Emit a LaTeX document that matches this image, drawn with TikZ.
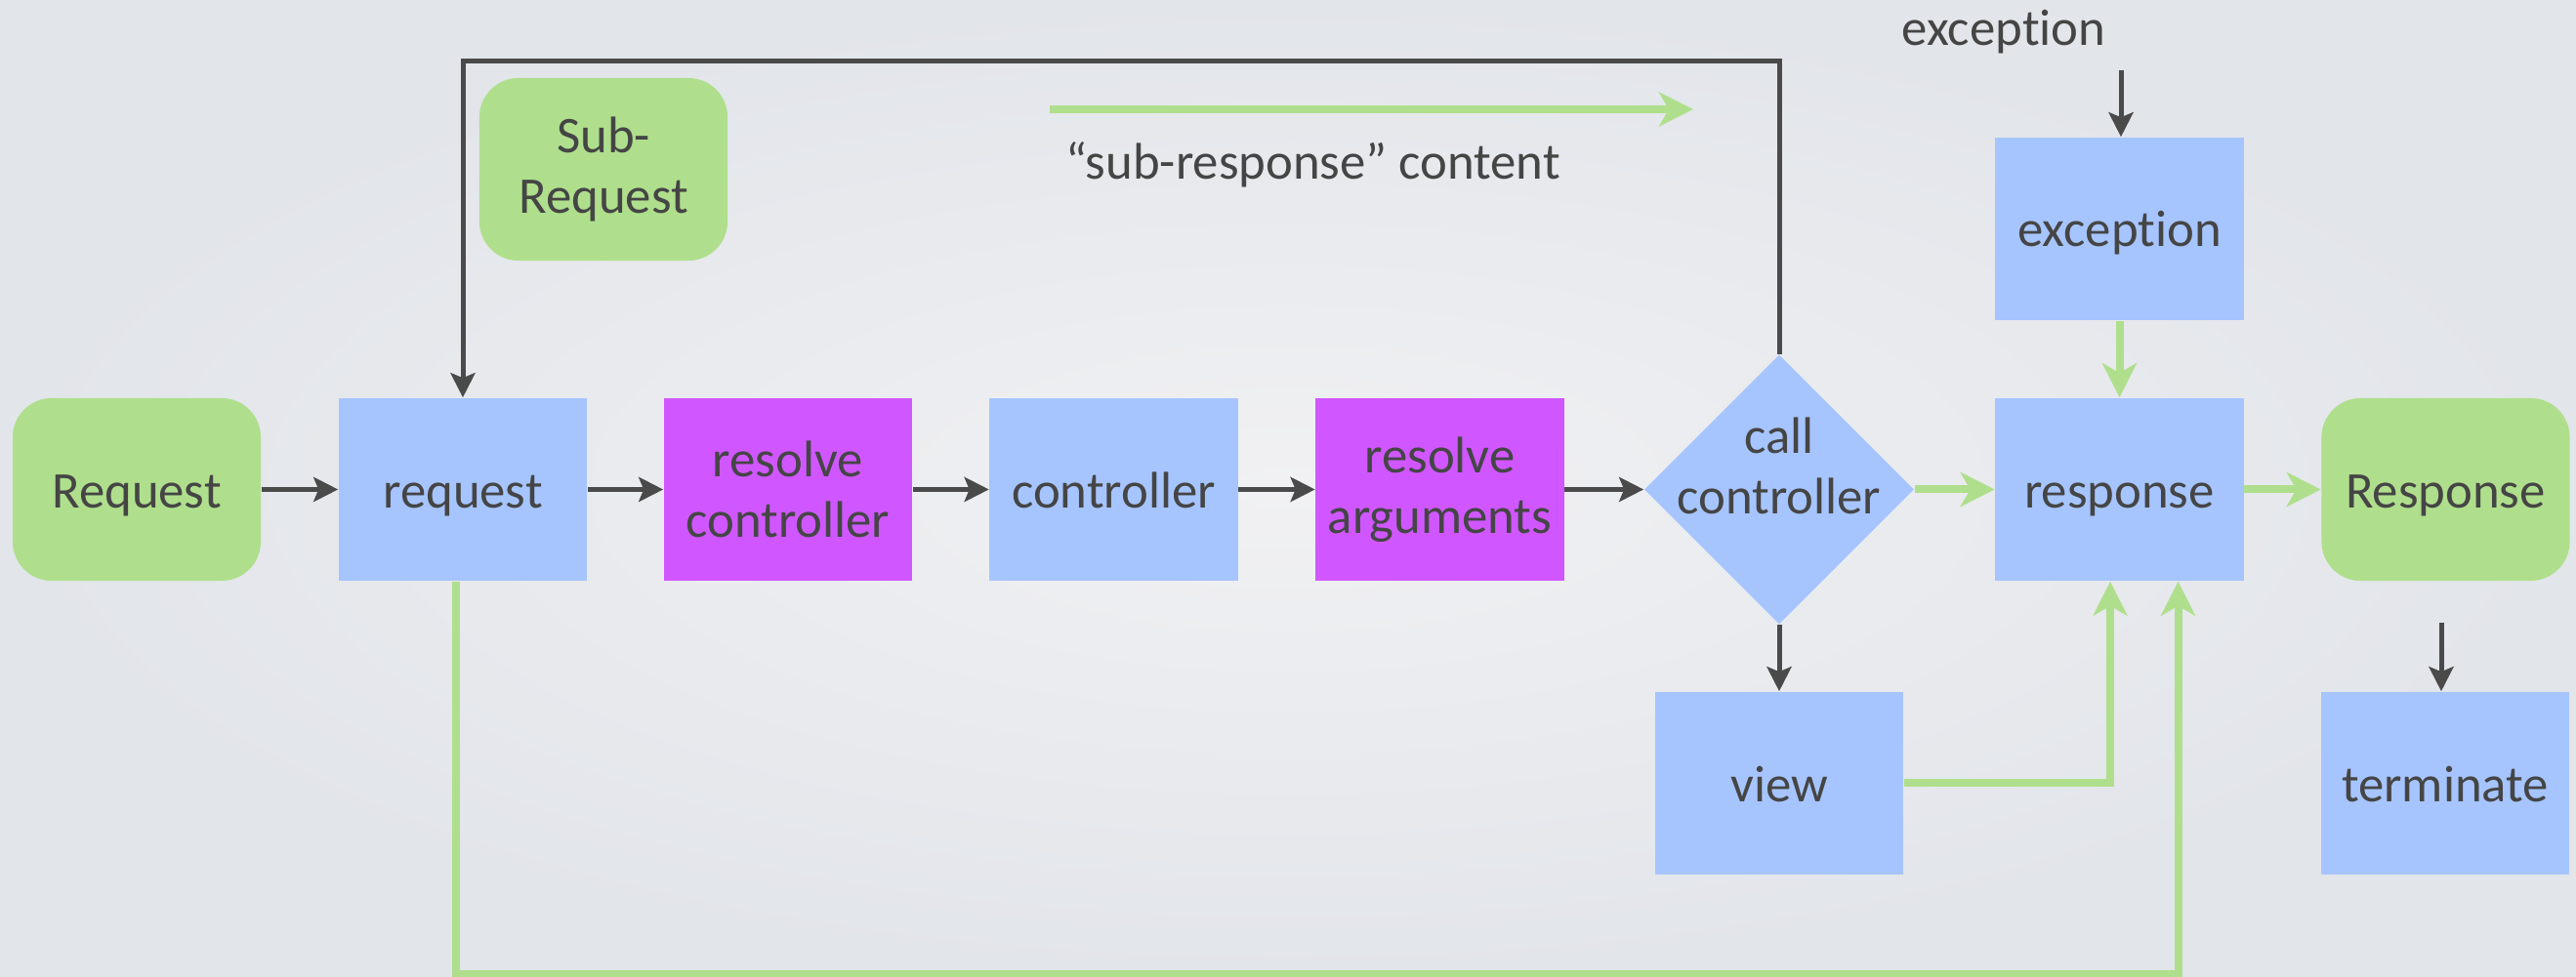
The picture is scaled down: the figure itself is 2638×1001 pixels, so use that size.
\documentclass[tikz,border=0pt]{standalone}
\usepackage{fontspec}
\setmainfont{Carlito}[Ligatures=NoCommon]
\usetikzlibrary{arrows.meta,shapes.geometric,calc}

\definecolor{grn}{HTML}{AFDF8C}
\definecolor{blu}{HTML}{A6C5FF}
\definecolor{mag}{HTML}{D057FF}
\definecolor{txt}{HTML}{454545}
\definecolor{lin}{HTML}{4A4A4A}
\definecolor{bgin}{HTML}{F1F1F3}
\definecolor{bgout}{HTML}{E2E5EA}

\begin{document}
\begin{tikzpicture}[x=0.01cm,y=-0.01cm,
  font=\fontsize{15pt}{17.6pt}\selectfont,
  every node/.style={text=txt, inner sep=0pt},
  box/.style={rectangle, minimum width=2.54cm, minimum height=1.87cm, align=center},
  bluebox/.style={box, fill=blu},
  magbox/.style={box, fill=mag},
  greenbox/.style={box, fill=grn, rounded corners=0.4cm},
  oneline/.style={text height=0.37cm, text depth=0pt},
  blk/.style={draw=lin, line width=0.05cm, -{Stealth[length=0.25cm,width=0.25cm,inset=0.05cm]}},
  grnarr/.style={draw=grn, line width=0.08cm, -{Stealth[length=0.35cm,width=0.35cm,inset=0.1cm]}},
]
\useasboundingbox (0,0) rectangle (2638,1001);
\shade[inner color=bgin, outer color=bgout] (0,0) rectangle (2638,1001);

% main row
\node[greenbox, oneline] (Req)  at (140,501.5)    {Request};
\node[bluebox, oneline]  (req)  at (474,501.5)    {request};
\node[magbox]            (rc)   at (807,501.5)    {resolve\\controller};
\node[bluebox, oneline]  (ctl)  at (1140.5,501.5) {controller};
\node[magbox]            (ra)   at (1474.5,501.5) {resolve\\arguments};
\node[diamond, fill=blu, minimum width=2.76cm, minimum height=2.76cm] (dia) at (1822,501.5) {};
\node[align=center]      (diatxt) at (1822,477)   {call\\controller};
\node[bluebox, oneline]  (resp) at (2170.5,501.5) {response};
\node[greenbox, oneline] (Resp) at (2504.5,501.5) {Response};

% upper and lower boxes
\node[greenbox]          (sub)  at (618,173.5)    {Sub-\\Request};
\node[bluebox, oneline]  (exc)  at (2170.5,234.5) {exception};
\node[bluebox, oneline]  (view) at (1822,802.5)   {view};
\node[bluebox, oneline]  (term) at (2504,802.5)   {terminate};

% free labels
\node[anchor=base] (exclbl) at (2052,47)   {exception};
\node[anchor=base] (sublbl) at (1344.5,184) {“sub-response” content};

% helper coordinates
\coordinate (top) at (0,63);
\coordinate (low) at (0,998);
\coordinate (sa) at (1075,112);
\coordinate (sb) at (1734,112);
\coordinate (ea) at (2172,72);
\coordinate (ta) at (2500,638);

% dark connectors
\draw[blk] (Req) -- (req);
\draw[blk] (req) -- (rc);
\draw[blk] (rc) -- (ctl);
\draw[blk] (ctl) -- (ra);
\draw[blk] (ra) -- (dia);
\draw[blk] (dia) -- (view);
\draw[blk] (dia.north) -- (dia.north |- top) -| (req.north);
\draw[blk] (ea) -- (ea |- exc.north);
\draw[blk] (ta) -- (ta |- term.north);

% green connectors
\draw[grnarr] (dia) -- (resp);
\draw[grnarr] (resp) -- (Resp);
\draw[grnarr] (exc) -- (resp);
\draw[grnarr] (view) -| ([xshift=-0.095cm]resp.south);
\draw[grnarr] ([xshift=-0.07cm]req.south) -- ([xshift=-0.07cm]req.south |- low) -| ([xshift=0.6cm]resp.south);
\draw[grnarr] (sa) -- (sb);
\end{tikzpicture}
\end{document}
